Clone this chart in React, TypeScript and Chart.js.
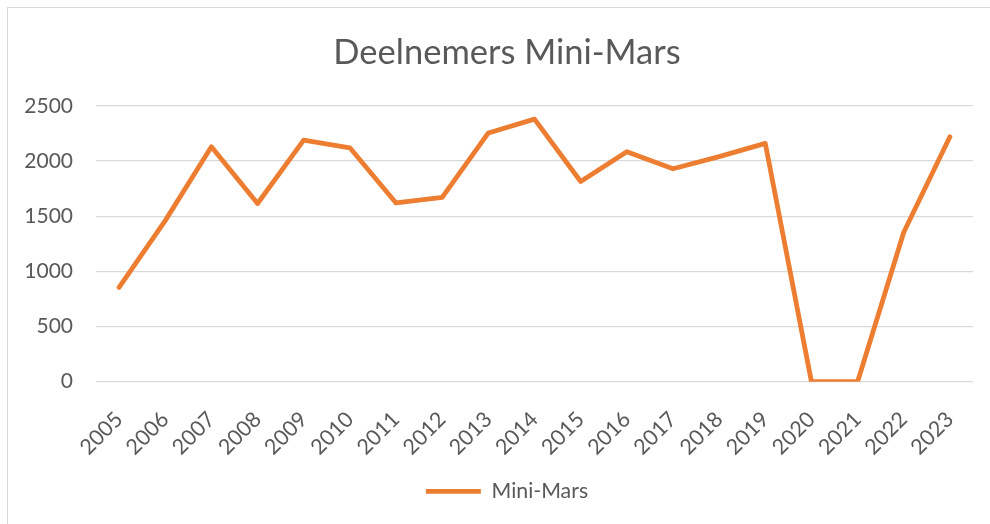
import React, { useEffect, useRef } from "react";
import { Chart, registerables } from "chart.js";

Chart.register(...registerables);

const years = ["2005","2006","2007","2008","2009","2010","2011","2012","2013","2014","2015","2016","2017","2018","2019","2020","2021","2022","2023"];
const miniMars = [855, 1460, 2130, 1615, 2190, 2120, 1620, 1670, 2255, 2380, 1815, 2085, 1930, 2040, 2160, 0, 0, 1355, 2220];
const seriesName = "Mini-Mars";
const chartTitle = "Deelnemers Mini-Mars";

const TEXT = "#595959";
const FONT = "Lato, 'Open Sans', sans-serif";

export default function App() {
  const ref = useRef<HTMLCanvasElement | null>(null);
  useEffect(() => {
    if (!ref.current) return;
    const chart = new Chart(ref.current, {
      type: "line",
      data: {
        labels: years,
        datasets: [
          {
            label: seriesName,
            data: miniMars,
            borderColor: "#ED7D31",
            backgroundColor: "#ED7D31",
            borderWidth: 4.8,
            tension: 0,
            pointRadius: 0,
            pointHoverRadius: 0,
            borderCapStyle: "round",
            borderJoinStyle: "round",
            fill: false,
          },
        ],
      },
      options: {
        responsive: false,
        animation: false,
        layout: { padding: { left: 0, right: 0, top: 0, bottom: 12 } },
        plugins: {
          title: {
            display: true,
            text: chartTitle,
            color: TEXT,
            font: { family: FONT, size: 34.5, weight: "normal", lineHeight: 1.2 },
            padding: { top: 32.5, bottom: 32 },
          },
          legend: {
            display: true,
            position: "bottom",
            labels: {
              color: TEXT,
              font: { family: FONT, size: 21.3 },
              usePointStyle: true,
              pointStyle: "line",
              pointStyleWidth: 55,
              boxHeight: 20,
              padding: 10,
            },
          },
          tooltip: { enabled: false },
        },
        scales: {
          x: {
            offset: true,
            grid: { display: false, drawTicks: false },
            border: { display: false },
            ticks: {
              color: TEXT,
              font: { family: FONT, size: 21.5 },
              minRotation: 45,
              maxRotation: 45,
              autoSkip: false,
              padding: 25,
            },
            afterFit: (s: any) => {
              s.height = 89;
            },
          },
          y: {
            min: 0,
            max: 2500,
            grid: { color: "#d9d9d9", lineWidth: 1.3, drawTicks: false },
            border: { display: false },
            ticks: {
              stepSize: 500,
              color: TEXT,
              font: { family: FONT, size: 21 },
              padding: 23,
              callback: (v: any) => String(v),
            },
            afterFit: (s: any) => {
              s.width = 96;
            },
          },
          yRight: {
            position: "right",
            display: true,
            min: 0,
            max: 2500,
            grid: { display: false, drawTicks: false },
            border: { display: false },
            ticks: { display: false },
            afterFit: (s: any) => {
              s.width = 41;
            },
          },
        },
      },
    });
    return () => chart.destroy();
  }, []);

  return (
    <div style={{ position: "fixed", left: 0, top: 0, width: 990, height: 524, overflow: "hidden", background: "#fff" }}>
      <div
        style={{
          position: "absolute",
          left: 7,
          top: 7,
          width: 1040,
          height: 560,
          border: "1.5px solid #d9d9d9",
          boxSizing: "border-box",
        }}
      />
      <canvas
        ref={ref}
        width={1014}
        height={524}
        style={{ position: "absolute", left: 0, top: 0, width: 1014, height: 524, display: "block" }}
      />
    </div>
  );
}
